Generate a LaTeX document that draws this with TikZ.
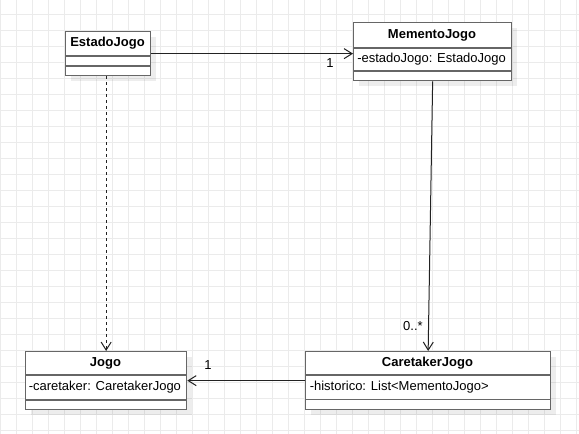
\documentclass[tikz,border=0pt]{standalone}
\usepackage{fontspec}
\setmainfont{Liberation Sans}
\usetikzlibrary{arrows.meta,shadows}
\newlength\pxu
\setlength\pxu{0.75pt}
\definecolor{gridc}{HTML}{EBEBEB}
\definecolor{boxc}{HTML}{666666}
\definecolor{linec}{HTML}{222222}
\begin{document}
\begin{tikzpicture}[x=0.75pt,y=-0.75pt,
  font=\fontsize{9.75pt}{11.5pt}\selectfont,
  gridline/.style={draw=gridc, line width=1\pxu},
  classbox/.style={draw=boxc, line width=1.3\pxu, fill=white, inner sep=0pt, anchor=north west,
    drop shadow={shadow xshift=5\pxu, shadow yshift=-5\pxu, fill=black, opacity=0.07}},
  sepline/.style={draw=boxc, line width=1.3\pxu},
  classtitle/.style={inner sep=0pt, font=\fontsize{9.75pt}{11.5pt}\selectfont\bfseries},
  attrtext/.style={inner sep=0pt, anchor=west},
  multlabel/.style={inner sep=0pt},
  assoc/.style={draw=linec, line width=0.75pt, -{Straight Barb[length=6pt,width=7.5pt,line width=0.75pt]}},
  dep/.style={assoc, dash pattern=on 2.25pt off 2.25pt}
]
\useasboundingbox (0,0) rectangle (579,434);
\fill[white] (0,0) rectangle (579,434);
% grid
\foreach \i in {0,...,36} \draw[gridline] (0.5+16*\i,0) -- (0.5+16*\i,434);
\foreach \j in {0,...,26} \draw[gridline] (0,15+16*\j) -- (579,15+16*\j);

% EstadoJogo
\node[classbox, minimum width=85\pxu, minimum height=44\pxu] (estado) at (65,31) {};
\node[classtitle] (estadoT) at (107.5,43.5) {EstadoJogo};
\draw[sepline] (65,56) -- (150,56);
\draw[sepline] (65,66) -- (150,66);

% MementoJogo
\node[classbox, minimum width=158\pxu, minimum height=58\pxu] (memento) at (353,22) {};
\node[classtitle] (mementoT) at (432,35) {MementoJogo};
\draw[sepline] (353,48) -- (511,48);
\node[attrtext] (mementoA) at (357,59.5) {-estadoJogo: EstadoJogo};
\draw[sepline] (353,71) -- (511,71);

% Jogo
\node[classbox, minimum width=161\pxu, minimum height=58\pxu] (jogo) at (25,351) {};
\node[classtitle] (jogoT) at (105.5,363) {Jogo};
\draw[sepline] (25,375) -- (186,375);
\node[attrtext] (jogoA) at (28.5,387.5) {-caretaker: CaretakerJogo};
\draw[sepline] (25,400) -- (186,400);

% CaretakerJogo
\node[classbox, minimum width=245\pxu, minimum height=58\pxu] (caretaker) at (305,351) {};
\node[classtitle] (caretakerT) at (427.5,363) {CaretakerJogo};
\draw[sepline] (305,375) -- (550,375);
\node[attrtext] (caretakerA) at (309.5,387.5) {-historico: List<MementoJogo>};
\draw[sepline] (305,399.5) -- (550,399.5);

% connectors
\draw[assoc] (estado.east) -- (estado.east -| memento.west);
\node[multlabel] (m1) at (330,63) {1};
\draw[dep] (estado.south -| jogo.north) -- (jogo.north);
\draw[assoc] (memento.south) -- (caretaker.north);
\node[multlabel] (m2) at (413,326) {0..*};
\draw[assoc] (caretaker.west) -- (jogo.east);
\node[multlabel] (m3) at (208,365) {1};
\end{tikzpicture}
\end{document}
